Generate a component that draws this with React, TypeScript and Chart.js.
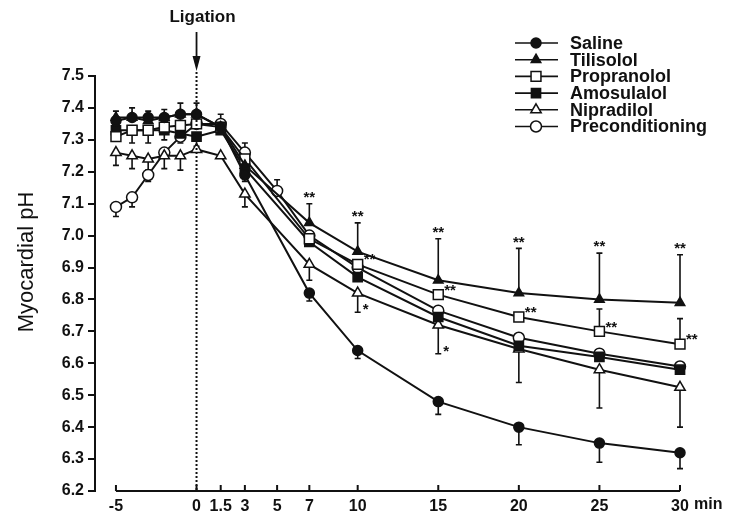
import React, { useEffect, useRef } from 'react';
import { Chart, registerables } from 'chart.js';

Chart.register(...registerables);

// ---- data ----
const times = [-5, -4, -3, -2, -1, 0, 1.5, 3, 5, 7, 10, 15, 20, 25, 30];
const xTickValues = [-5, 0, 1.5, 3, 5, 7, 10, 15, 20, 25, 30];
const yMin = 6.2;
const yMax = 7.5;

const seriesNames = ['Saline', 'Tilisolol', 'Propranolol', 'Amosulalol', 'Nipradilol', 'Preconditioning'];

const salineValues = [7.36, 7.37, 7.37, 7.37, 7.38, 7.38, 7.34, 7.19, null, 6.82, 6.64, 6.48, 6.40, 6.35, 6.32];
const salineUp = [0, 0, 0, 0, 0, 0, 0, 0, 0, 0, 0, 0, 0, 0, 0];
const salineDown = [0, 0, 0, 0, 0, 0, 0, 0.02, 0, 0.025, 0.025, 0.04, 0.055, 0.06, 0.05];

const tilisololValues = [7.37, 7.37, 7.36, 7.37, 7.38, 7.38, 7.34, 7.22, null, 7.04, 6.95, 6.86, 6.82, 6.80, 6.79];
const tilisololUp = [0.02, 0.03, 0.03, 0.025, 0.035, 0.035, 0, 0, 0, 0.06, 0.09, 0.13, 0.14, 0.145, 0.15];
const tilisololDown = [0, 0, 0, 0, 0, 0, 0, 0, 0, 0, 0, 0, 0, 0, 0];

const propranololValues = [7.31, 7.33, 7.33, 7.34, 7.345, 7.35, 7.34, 7.24, null, 6.99, 6.91, 6.815, 6.745, 6.70, 6.66];
const propranololUp = [0, 0, 0, 0, 0, 0, 0, 0, 0, 0, 0, 0, 0, 0.07, 0.08];
const propranololDown = [0, 0, 0, 0, 0, 0, 0, 0, 0, 0, 0, 0, 0, 0, 0];

const amosulalolValues = [7.33, 7.33, 7.33, 7.33, 7.32, 7.31, 7.33, 7.21, null, 6.98, 6.87, 6.745, 6.655, 6.62, 6.58];
const amosulalolUp = [0, 0, 0, 0, 0, 0, 0, 0, 0, 0, 0, 0, 0, 0, 0];
const amosulalolDown = [0.03, 0.04, 0.04, 0.03, 0.03, 0.03, 0, 0, 0, 0, 0, 0, 0, 0, 0];

const nipradilolValues = [7.26, 7.25, 7.24, 7.25, 7.25, 7.27, 7.25, 7.13, null, 6.91, 6.82, 6.72, 6.645, 6.58, 6.525];
const nipradilolUp = [0, 0, 0, 0, 0, 0, 0, 0, 0, 0, 0, 0, 0, 0, 0];
const nipradilolDown = [0.04, 0.04, 0.035, 0.04, 0.045, 0, 0, 0.04, 0, 0.05, 0.06, 0.09, 0.105, 0.12, 0.125];

const preconditioningValues = [7.09, 7.12, 7.19, 7.26, 7.31, 7.35, 7.35, 7.26, 7.14, 7.00, 6.90, 6.765, 6.68, 6.63, 6.59];
const preconditioningUp = [0, 0, 0, 0, 0, 0, 0.03, 0.03, 0.035, 0, 0, 0, 0, 0, 0];
const preconditioningDown = [0.03, 0.03, 0.02, 0, 0, 0, 0, 0, 0, 0, 0, 0, 0, 0, 0];

// significance marks (time points)
const tilisololStars = [7, 10, 15, 20, 25, 30];
const propranololStars = [10, 15, 20, 25, 30];
const nipradilolStars = [10, 15];

const FONT = 'Arial, "Liberation Sans", Helvetica, sans-serif';

type Pt = { x: number; y: number; up: number; down: number };

function buildPoints(values: (number | null)[], up: number[], down: number[]): Pt[] {
  const pts: Pt[] = [];
  times.forEach((t, i) => {
    const v = values[i];
    if (v !== null && v !== undefined) pts.push({ x: t, y: v, up: up[i], down: down[i] });
  });
  return pts;
}

const seriesDefs = [
  { values: salineValues, up: salineUp, down: salineDown, style: 'circle', fill: true, r: 5 },
  { values: tilisololValues, up: tilisololUp, down: tilisololDown, style: 'triangle', fill: true, r: 5.5 },
  { values: propranololValues, up: propranololUp, down: propranololDown, style: 'rect', fill: false, r: 7 },
  { values: amosulalolValues, up: amosulalolUp, down: amosulalolDown, style: 'rect', fill: true, r: 6.5 },
  { values: nipradilolValues, up: nipradilolUp, down: nipradilolDown, style: 'triangle', fill: false, r: 6 },
  { values: preconditioningValues, up: preconditioningUp, down: preconditioningDown, style: 'circle', fill: false, r: 5.5 },
];

function drawMarker(ctx: CanvasRenderingContext2D, style: string, fill: boolean, r: number, x: number, y: number) {
  ctx.save();
  ctx.beginPath();
  if (style === 'circle') {
    ctx.arc(x, y, r, 0, Math.PI * 2);
  } else if (style === 'rect') {
    const s = r * Math.SQRT1_2;
    ctx.rect(x - s, y - s, 2 * s, 2 * s);
  } else {
    const h = r;
    ctx.moveTo(x, y - h);
    ctx.lineTo(x + h * Math.sin(Math.PI / 3), y + h * 0.5);
    ctx.lineTo(x - h * Math.sin(Math.PI / 3), y + h * 0.5);
    ctx.closePath();
  }
  ctx.fillStyle = fill ? '#111' : '#fff';
  ctx.fill();
  ctx.lineWidth = 1.5;
  ctx.strokeStyle = '#111';
  ctx.stroke();
  ctx.restore();
}

const decorPlugin = {
  id: 'decor',
  beforeDatasetsDraw(chart: any) {
    const ctx: CanvasRenderingContext2D = chart.ctx;
    const ys = chart.scales.y;
    ctx.save();
    ctx.strokeStyle = '#111';
    ctx.lineWidth = 1.6;
    chart.data.datasets.forEach((ds: any, di: number) => {
      const meta = chart.getDatasetMeta(di);
      ds.data.forEach((p: Pt, j: number) => {
        const el = meta.data[j];
        if (!el) return;
        const x = el.x;
        const y = el.y;
        const drawBar = (val: number) => {
          const yy = ys.getPixelForValue(val);
          ctx.beginPath();
          ctx.moveTo(x, y);
          ctx.lineTo(x, yy);
          ctx.moveTo(x - 3, yy);
          ctx.lineTo(x + 3, yy);
          ctx.stroke();
        };
        if (p.up > 0) drawBar(p.y + p.up);
        if (p.down > 0) drawBar(p.y - p.down);
      });
    });
    ctx.restore();
  },
  afterDatasetsDraw(chart: any) {
    const ctx: CanvasRenderingContext2D = chart.ctx;
    const xs = chart.scales.x;
    const ys = chart.scales.y;
    const area = chart.chartArea;
    ctx.save();

    // x axis line and inward ticks
    const x0 = xs.getPixelForValue(-5);
    const x1 = xs.getPixelForValue(30);
    ctx.strokeStyle = '#111';
    ctx.lineWidth = 2;
    ctx.beginPath();
    ctx.moveTo(x0, area.bottom);
    ctx.lineTo(x1, area.bottom);
    ctx.stroke();
    xTickValues.forEach((v) => {
      const px = xs.getPixelForValue(v);
      ctx.beginPath();
      ctx.moveTo(px, area.bottom);
      ctx.lineTo(px, area.bottom - 6);
      ctx.stroke();
    });

    // ligation dotted line + arrow
    const lx = xs.getPixelForValue(0);
    ctx.lineWidth = 2;
    ctx.setLineDash([2, 2]);
    ctx.beginPath();
    ctx.moveTo(lx, 72);
    ctx.lineTo(lx, area.bottom);
    ctx.stroke();
    ctx.setLineDash([]);
    ctx.lineWidth = 1.8;
    ctx.beginPath();
    ctx.moveTo(lx, 32);
    ctx.lineTo(lx, 60);
    ctx.stroke();
    ctx.fillStyle = '#111';
    ctx.beginPath();
    ctx.moveTo(lx - 4, 56);
    ctx.lineTo(lx + 4, 56);
    ctx.lineTo(lx, 71);
    ctx.closePath();
    ctx.fill();
    ctx.font = `bold 17px ${FONT}`;
    ctx.textAlign = 'center';
    ctx.textBaseline = 'middle';
    ctx.fillText('Ligation', lx + 6, 17);

    // "min" after last tick label
    ctx.font = `bold 16px ${FONT}`;
    ctx.textAlign = 'left';
    ctx.fillText('min', x1 + 14, 505);

    // y title
    ctx.save();
    ctx.translate(27, 262);
    ctx.rotate(-Math.PI / 2);
    ctx.font = `22px ${FONT}`;
    ctx.textAlign = 'center';
    ctx.textBaseline = 'middle';
    ctx.fillText('Myocardial pH', 0, 0);
    ctx.restore();

    // significance stars
    ctx.font = `bold 15px ${FONT}`;
    ctx.textBaseline = 'middle';
    const findPt = (di: number, t: number) => {
      const ds = chart.data.datasets[di];
      const j = ds.data.findIndex((p: Pt) => p.x === t);
      return j >= 0 ? { p: ds.data[j] as Pt, el: chart.getDatasetMeta(di).data[j] } : null;
    };
    tilisololStars.forEach((t) => {
      const f = findPt(1, t);
      if (!f) return;
      const top = ys.getPixelForValue(f.p.y + f.p.up);
      ctx.textAlign = 'center';
      ctx.fillText('**', f.el.x, top - 6);
    });
    propranololStars.forEach((t) => {
      const f = findPt(2, t);
      if (!f) return;
      ctx.textAlign = 'left';
      ctx.fillText('**', f.el.x + 6, f.el.y - 4);
    });
    nipradilolStars.forEach((t) => {
      const f = findPt(4, t);
      if (!f) return;
      const bot = ys.getPixelForValue(f.p.y - f.p.down);
      ctx.textAlign = 'left';
      ctx.fillText('*', f.el.x + 5, bot - 2);
    });

    // legend
    const legX0 = 515;
    const legX1 = 558;
    const legM = 536;
    const legText = 570;
    const legY0 = 43;
    const legStep = 16.7;
    ctx.font = `bold 18px ${FONT}`;
    ctx.textAlign = 'left';
    ctx.textBaseline = 'middle';
    seriesDefs.forEach((s, i) => {
      const y = legY0 + i * legStep;
      ctx.strokeStyle = '#111';
      ctx.lineWidth = 1.6;
      ctx.beginPath();
      ctx.moveTo(legX0, y);
      ctx.lineTo(legX1, y);
      ctx.stroke();
      drawMarker(ctx, s.style, s.fill, s.r, legM, y);
      ctx.fillStyle = '#111';
      ctx.fillText(seriesNames[i], legText, y + 1);
    });

    ctx.restore();
  },
};

export default function App() {
  const ref = useRef<HTMLCanvasElement | null>(null);
  useEffect(() => {
    if (!ref.current) return;
    const datasets = seriesDefs.map((s, i) => ({
      label: seriesNames[i],
      data: buildPoints(s.values, s.up, s.down),
      borderColor: '#111',
      borderWidth: 2,
      backgroundColor: s.fill ? '#111' : '#fff',
      pointBackgroundColor: s.fill ? '#111' : '#fff',
      pointBorderColor: '#111',
      pointBorderWidth: 1.5,
      pointStyle: s.style,
      pointRadius: s.r,
      pointHoverRadius: s.r,
      tension: 0,
      fill: false,
      clip: false,
    }));
    const chart = new Chart(ref.current, {
      type: 'line',
      data: { datasets } as any,
      options: {
        animation: false,
        responsive: false,
        devicePixelRatio: 1,
        parsing: { xAxisKey: 'x', yAxisKey: 'y' },
        layout: { padding: { top: 76, right: 51, bottom: 0, left: 0 } },
        plugins: { legend: { display: false }, tooltip: { enabled: false } },
        events: [],
        scales: {
          x: {
            type: 'linear',
            min: -6.3,
            max: 30,
            afterBuildTicks: (scale: any) => {
              scale.ticks = xTickValues.map((v) => ({ value: v }));
            },
            afterFit: (scale: any) => {
              scale.height = 26;
            },
            grid: { display: false, drawTicks: false },
            border: { display: false },
            ticks: {
              autoSkip: false,
              maxRotation: 0,
              padding: 6,
              color: '#111',
              font: { family: FONT, size: 16, weight: 'bold' },
              callback: (v: any) => String(v),
            },
          },
          y: {
            type: 'linear',
            min: yMin,
            max: yMax,
            afterFit: (scale: any) => {
              scale.width = 95;
            },
            grid: { display: true, drawOnChartArea: false, tickLength: 7, color: '#111', lineWidth: 2 },
            border: { display: true, color: '#111', width: 2 },
            ticks: {
              stepSize: 0.1,
              padding: 4,
              color: '#111',
              font: { family: FONT, size: 16, weight: 'bold' },
              callback: (v: any) => Number(v).toFixed(1),
            },
          },
        },
      } as any,
      plugins: [decorPlugin],
    });
    return () => chart.destroy();
  }, []);
  return (
    <div style={{ position: 'fixed', left: 0, top: 0, width: 731, height: 517, background: '#fff' }}>
      <canvas ref={ref} width={731} height={517} style={{ width: 731, height: 517, display: 'block' }} />
    </div>
  );
}
